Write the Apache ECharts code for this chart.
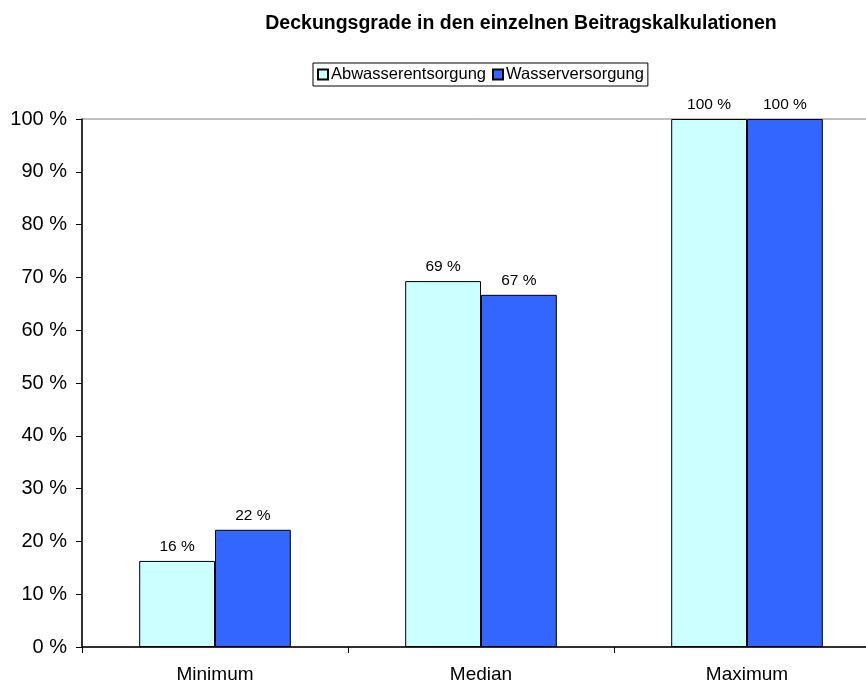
<!DOCTYPE html>
<html><head><meta charset="utf-8">
<script src="https://cdn.jsdelivr.net/npm/echarts@6/dist/echarts.min.js"></script>
<style>html,body{margin:0;padding:0;background:#fff}#c{width:866px;height:684px}</style>
</head><body><div id="c"></div>
<script>
const categories = ['Minimum', 'Median', 'Maximum'];
const abwasser = [16.3, 69.3, 100];
const wasser = [22.2, 66.7, 100];
const seriesNames = ['Abwasserentsorgung', 'Wasserversorgung'];
const yTicks = [0, 10, 20, 30, 40, 50, 60, 70, 80, 90, 100];

const chart = echarts.init(document.getElementById('c'), null, {renderer: 'canvas'});
const font = 'Arial, "Liberation Sans", sans-serif';
chart.setOption({
  animation: false,
  title: {
    text: 'Deckungsgrade in den einzelnen Beitragskalkulationen',
    left: 516, top: 9, textAlign: 'center',
    textStyle: {fontFamily: font, fontSize: 19.5, fontWeight: 'bold', color: '#000'}
  },
  legend: {
    data: seriesNames,
    left: 313, top: 63,
    borderColor: '#000', borderWidth: 1,
    padding: [3, 4, 3, 4],
    itemWidth: 10, itemHeight: 10, itemGap: 6,
    icon: 'rect',
    textStyle: {fontFamily: font, fontSize: 16.5, color: '#000', padding: [0, 0, 0, -2]}
  },
  grid: {
    left: 82, right: -14, top: 119, bottom: 37,
    outerBoundsMode: 'none', containLabel: false,
    show: true, borderColor: '#808080', borderWidth: 1
  },
  xAxis: {
    type: 'category', data: categories,
    axisLine: {lineStyle: {color: '#000', width: 1.5}},
    axisTick: {show: true, length: 6, lineStyle: {color: '#000'}},
    axisLabel: {fontFamily: font, fontSize: 19, color: '#000', margin: 18}
  },
  yAxis: {
    type: 'value', min: 0, max: 100, interval: 10,
    axisLine: {show: true, lineStyle: {color: '#000', width: 1.5}},
    axisTick: {show: true, length: 6, lineStyle: {color: '#000'}},
    splitLine: {show: false},
    axisLabel: {fontFamily: font, fontSize: 20, color: '#000', margin: 15,
      formatter: v => yTicks.includes(v) ? v + ' %' : ''}
  },
  series: [
    {name: seriesNames[0], type: 'bar', data: abwasser, barGap: '0%', barCategoryGap: '43%',
     itemStyle: {color: '#CCFFFF', borderColor: '#000', borderWidth: 1},
     label: {show: true, position: 'top', distance: 6, fontFamily: font, fontSize: 15.5, color: '#000',
       formatter: p => Math.round(p.value) + ' %'}},
    {name: seriesNames[1], type: 'bar', data: wasser,
     itemStyle: {color: '#3366FF', borderColor: '#000', borderWidth: 1},
     label: {show: true, position: 'top', distance: 6, fontFamily: font, fontSize: 15.5, color: '#000',
       formatter: p => Math.round(p.value) + ' %'}}
  ]
});
</script></body></html>
